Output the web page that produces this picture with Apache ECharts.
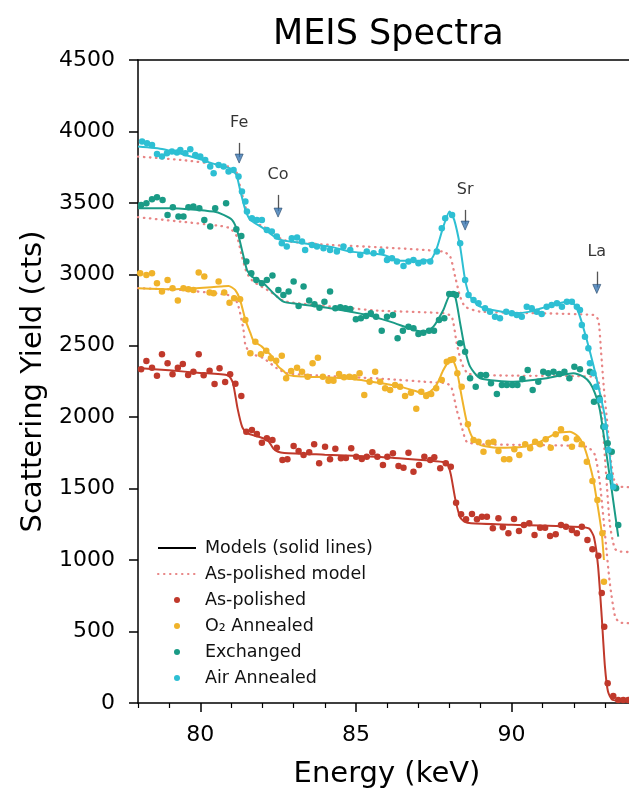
<!DOCTYPE html>
<html>
<head>
<meta charset="utf-8">
<script src="https://cdn.jsdelivr.net/npm/echarts@6/dist/echarts.min.js"></script>
<style>
  html, body { margin: 0; padding: 0; background: #fff; }
  #chart { width: 629px; height: 789px; }
</style>
</head>
<body>
<div id="chart"></div>
<script>
// measured spectra: [energy keV, counts]
var asPolishedPts = [[78.10,2336],[78.27,2394],[78.45,2347],[78.61,2291],[78.77,2441],[78.95,2378],[79.11,2301],[79.28,2347],[79.44,2373],[79.61,2296],[79.78,2319],[79.95,2441],
  [80.11,2294],[80.30,2326],[80.46,2233],[80.62,2343],[80.80,2247],[80.96,2301],[81.13,2235],[81.32,2149],[81.48,1899],[81.66,1911],[81.82,1883],[81.98,1822],
  [82.14,1853],[82.32,1841],[82.46,1787],[82.64,1701],[82.80,1706],[83.00,1799],[83.16,1764],[83.32,1736],[83.50,1755],[83.66,1811],[83.82,1678],
  [84.01,1794],[84.17,1706],[84.34,1780],[84.52,1713],[84.68,1715],[84.85,1783],[85.01,1724],[85.19,1708],[85.35,1724],[85.53,1755],[85.69,1724],[85.87,1666],
  [86.01,1724],[86.19,1748],[86.37,1659],[86.53,1647],[86.69,1752],[86.85,1619],[87.03,1666],[87.20,1724],[87.39,1701],[87.52,1720],[87.71,1643],[87.89,1678],
  [88.05,1654],[88.22,1402],[88.38,1321],[88.54,1286],[88.73,1323],[88.89,1286],[89.05,1304],[89.21,1304],[89.40,1223],[89.58,1293],[89.72,1230],[89.90,1188],
  [90.08,1288],[90.24,1204],[90.40,1246],[90.57,1258],[90.74,1176],[90.92,1227],[91.08,1227],[91.24,1169],[91.42,1181],[91.59,1246],[91.75,1234],[91.94,1211],
  [92.10,1188],[92.26,1234],[92.44,1141],[92.60,1076],[92.79,1031],[92.90,770],[92.98,534],[93.09,138],[93.27,49],[93.43,21],[93.59,21],[93.75,21]];

var o2AnnealedPts = [[78.07,3008],[78.27,2996],[78.45,3008],[78.61,2938],[78.77,2879],[78.95,2961],[79.11,2903],[79.28,2816],[79.46,2903],[79.62,2896],[79.78,2891],[79.95,3012],
  [80.13,2984],[80.30,2872],[80.43,2868],[80.59,2949],[80.77,2872],[80.94,2802],[81.09,2833],[81.28,2826],[81.45,2681],[81.61,2448],[81.77,2529],[81.95,2441],
  [82.12,2466],[82.27,2413],[82.44,2396],[82.62,2431],[82.76,2273],[82.92,2324],[83.11,2347],[83.27,2319],[83.45,2284],[83.61,2378],[83.78,2417],[83.94,2284],
  [84.12,2256],[84.28,2256],[84.46,2303],[84.62,2280],[84.79,2284],[84.96,2280],[85.12,2308],[85.27,2156],[85.44,2249],[85.62,2319],[85.78,2249],[85.94,2203],
  [86.10,2191],[86.26,2226],[86.42,2214],[86.58,2149],[86.77,2172],[86.94,2060],[87.10,2179],[87.26,2149],[87.42,2163],[87.58,2203],[87.76,2261],[87.92,2389],
  [88.04,2401],[88.13,2406],[88.26,2308],[88.40,2214],[88.60,1951],[88.78,1841],[88.94,1829],[89.10,1759],[89.26,1822],[89.42,1829],[89.58,1764],[89.76,1706],
  [89.93,1706],[90.09,1776],[90.25,1736],[90.44,1811],[90.60,1783],[90.76,1829],[90.92,1811],[91.10,1846],[91.26,1787],[91.42,1881],[91.59,1916],[91.75,1853],
  [91.94,1794],[92.10,1846],[92.26,1811],[92.42,1689],[92.60,1554],[92.76,1421],[92.92,1188],[92.97,849]];

var exchangedPts = [[78.10,3486],[78.27,3498],[78.45,3526],[78.61,3540],[78.79,3521],[78.95,3416],[79.12,3470],[79.30,3404],[79.46,3404],[79.62,3470],[79.78,3474],[79.97,3463],
  [80.13,3381],[80.32,3334],[80.48,3463],[80.83,3498],[81.16,3316],[81.32,3269],[81.48,3089],[81.64,3008],[81.80,2961],[81.98,2938],[82.14,2961],[82.32,2991],
  [82.51,2891],[82.67,2856],[82.84,2879],[83.00,2949],[83.16,2779],[83.32,2914],[83.50,2816],[83.67,2791],[83.83,2767],[83.99,2809],[84.17,2879],[84.34,2763],
  [84.50,2770],[84.66,2763],[84.82,2758],[85.00,2686],[85.16,2693],[85.33,2709],[85.48,2728],[85.65,2704],[85.83,2606],[86.00,2704],[86.19,2716],[86.34,2553],
  [86.51,2606],[86.69,2634],[86.85,2623],[87.01,2583],[87.17,2592],[87.35,2606],[87.51,2606],[87.67,2681],[87.84,2693],[88.00,2863],[88.13,2863],[88.22,2856],
  [88.35,2518],[88.51,2459],[88.67,2273],[88.85,2214],[89.01,2296],[89.18,2296],[89.34,2238],[89.53,2163],[89.69,2226],[89.85,2226],[90.03,2226],[90.19,2226],
  [90.35,2268],[90.52,2331],[90.68,2191],[90.86,2249],[91.02,2319],[91.18,2308],[91.35,2319],[91.53,2303],[91.70,2319],[91.86,2273],[92.02,2354],[92.20,2335],
  [92.52,2319],[92.65,2109],[92.82,2132],[92.95,1934],[93.09,1818],[93.14,1584],[93.22,1759],[93.36,1503],[93.43,1246]];

var airAnnealedPts = [[78.13,3929],[78.29,3917],[78.45,3906],[78.61,3843],[78.77,3824],[78.93,3848],[79.09,3859],[79.25,3852],[79.36,3871],[79.52,3848],[79.68,3875],[79.84,3836],
  [80.00,3824],[80.16,3801],[80.32,3754],[80.43,3708],[80.59,3766],[80.75,3754],[80.91,3719],[81.07,3731],[81.23,3684],[81.34,3579],[81.45,3509],[81.50,3439],
  [81.66,3393],[81.82,3381],[81.98,3381],[82.14,3311],[82.30,3299],[82.46,3264],[82.62,3218],[82.78,3194],[82.94,3252],[83.11,3257],[83.27,3229],[83.37,3171],
  [83.59,3206],[83.75,3194],[83.96,3183],[84.17,3171],[84.39,3159],[84.60,3194],[84.82,3171],[85.14,3136],[85.35,3159],[85.57,3147],[85.83,3159],[86.00,3101],
  [86.16,3113],[86.32,3089],[86.53,3059],[86.69,3089],[86.85,3101],[87.01,3078],[87.17,3089],[87.39,3089],[87.60,3159],[87.76,3322],[87.87,3393],[88.09,3416],
  [88.35,3218],[88.51,2961],[88.62,2856],[88.78,2821],[88.94,2798],[89.15,2763],[89.31,2739],[89.47,2704],[89.63,2693],[89.83,2739],[90.01,2728],[90.17,2716],
  [90.33,2704],[90.49,2774],[90.65,2763],[90.81,2739],[90.97,2723],[91.13,2774],[91.29,2786],[91.46,2798],[91.62,2774],[91.78,2809],[91.94,2809],[92.10,2774],
  [92.20,2751],[92.26,2646],[92.36,2564],[92.47,2483],[92.52,2378],[92.63,2308],[92.72,2214],[92.84,2121],[93.00,1934],[93.11,1771],[93.17,1584],[93.27,1514]];

// fitted models (solid lines)
var asPolishedModel = [[78.0,2345],[79.0,2328],[80.0,2310],[80.9,2292],[81.05,2240],[81.2,2060],[81.35,1930],[81.5,1888],[82.0,1855],[82.2,1830],[82.35,1780],[82.5,1758],
  [82.7,1750],[84.0,1738],[85.8,1722],[87.0,1702],[87.8,1686],[87.95,1668],[88.05,1600],[88.2,1420],[88.35,1300],[88.5,1268],[88.7,1258],[90.0,1248],[92.2,1232],
  [92.5,1220],[92.65,1160],[92.78,960],[92.9,600],[93.0,260],[93.1,80],[93.25,22],[94.0,10]];
var o2AnnealedModel = [[78.0,2903],[79.04,2896],[80.64,2914],[80.91,2919],[81.12,2891],[81.28,2821],[81.45,2681],[81.61,2590],[81.71,2535],[81.98,2494],[82.14,2459],
  [82.25,2440],[82.51,2354],[82.67,2325],[82.8,2296],[83.0,2289],[83.43,2284],[84.82,2270],[85.78,2240],[86.42,2214],[86.96,2180],[87.17,2165],[87.39,2180],[87.6,2230],
  [87.81,2330],[88.0,2395],[88.1,2401],[88.24,2331],[88.4,2144],[88.56,1970],[88.73,1864],[88.99,1806],[89.53,1787],[90.38,1794],[90.92,1829],[91.45,1888],[91.88,1899],
  [92.15,1864],[92.31,1806],[92.47,1701],[92.63,1561],[92.79,1351],[92.9,1188],[92.97,1001]];
var exchangedModel = [[78.0,3463],[79.04,3463],[80.43,3439],[80.75,3416],[81.02,3381],[81.18,3311],[81.34,3171],[81.5,3031],[81.66,2984],[82.03,2938],[82.35,2868],
  [82.67,2809],[83.11,2793],[84.17,2763],[85.35,2716],[86.1,2669],[86.96,2605],[87.2,2600],[87.49,2634],[87.81,2751],[88.03,2856],[88.19,2844],[88.35,2658],[88.51,2471],
  [88.67,2354],[88.99,2273],[90.06,2249],[91.13,2273],[91.99,2308],[92.31,2284],[92.52,2240],[92.68,2168],[92.84,2051],[93.0,1818],[93.22,1491],[93.43,1164]];
var airAnnealedModel = [[78.0,3894],[78.82,3875],[79.89,3812],[80.64,3759],[80.96,3742],[81.16,3696],[81.28,3591],[81.45,3451],[81.61,3381],[82.03,3322],[82.46,3252],
  [82.89,3229],[84.17,3194],[84.82,3159],[85.89,3136],[86.42,3095],[87.39,3101],[87.6,3183],[87.81,3334],[88.01,3439],[88.16,3381],[88.35,3194],[88.51,2961],[88.67,2844],
  [88.99,2774],[90.06,2728],[90.6,2739],[91.13,2774],[91.78,2809],[92.04,2786],[92.2,2704],[92.42,2540],[92.63,2366],[92.84,2170],[93.0,2004],[93.16,1724],[93.26,1500]];

// as-polished model shifted under each treated sample (dotted)
var refUnderO2 = [[78.0,2903],[79.36,2891],[80.64,2863],[81.07,2844],[81.23,2774],[81.39,2611],[81.45,2506],[81.61,2448],[82.03,2413],[82.46,2343],[82.78,2308],[83.43,2296],
  [85.78,2270],[87.6,2242],[87.92,2238],[88.08,2203],[88.24,2051],[88.4,1934],[88.56,1829],[88.99,1811],[92.42,1794],[92.68,1736],[92.84,1538],[93.0,1188],[93.16,838],
  [93.33,604],[93.49,562],[94.0,558]];
var refUnderExchanged = [[78.0,3400],[79.36,3369],[80.64,3339],[80.96,3322],[81.18,3264],[81.34,3124],[81.5,3008],[81.71,2949],[82.25,2879],[82.67,2815],[83.11,2798],
  [84.82,2763],[85.78,2745],[87.81,2728],[88.08,2704],[88.24,2518],[88.4,2378],[88.62,2303],[90.06,2291],[92.63,2284],[92.79,2260],[92.91,2000],[93.04,1600],[93.16,1250],
  [93.32,1080],[93.5,1060],[94.0,1055]];
var refUnderAir = [[78.0,3824],[79.36,3801],[80.64,3766],[81.12,3735],[81.28,3614],[81.45,3474],[81.61,3381],[82.03,3334],[82.57,3252],[82.89,3229],[84.17,3206],[85.78,3189],
  [87.81,3159],[88.03,3124],[88.19,2984],[88.35,2844],[88.51,2774],[88.99,2739],[92.63,2716],[92.79,2681],[92.88,2450],[92.97,2200],[93.08,1950],[93.18,1720],[93.3,1560],
  [93.45,1515],[94.0,1510]];

// element edge markers
var edgeNames = ['Fe', 'Co', 'Sr', 'La'];
var edgeEnergy = [81.25, 82.5, 88.51, 92.74];
var edgeTextCts = [4060, 3696, 3591, 3159];
var edgeTailCts = [3920, 3556, 3451, 3019];
var edgeTipCts = [3780, 3402, 3311, 2868];

var xMajorTicks = [80, 85, 90];
var xMinorTicks = [78, 79, 81, 82, 83, 84, 86, 87, 88, 89, 91, 92, 93];

var FONT = 'DejaVu Sans';
var RED = '#c0392b', YELLOW = '#f0b32a', TEAL = '#1a9b86', CYAN = '#2dbfd3', PINK = '#e88585';

var myChart = echarts.init(document.getElementById('chart'));

function dotted(data) {
  return {
    type: 'line', name: 'As-polished model', data: data, symbol: 'none', smooth: 0.2, z: 1,
    lineStyle: { color: PINK, width: 2.3, type: [0.5, 5.5], cap: 'round' },
    itemStyle: { color: PINK }
  };
}
function model(data, color) {
  return {
    type: 'line', data: data, symbol: 'none', smooth: 0.2, z: 2,
    lineStyle: { color: color, width: 2 }
  };
}
function dots(name, data, color) {
  return {
    type: 'scatter', name: name, data: data, symbolSize: 6.5, z: 3,
    itemStyle: { color: color, opacity: 1 }
  };
}

var heads = [], texts = [], shafts = [];
for (var i = 0; i < edgeNames.length; i++) {
  heads.push([edgeEnergy[i], edgeTipCts[i] + 30]);
  texts.push({ name: edgeNames[i], value: [edgeEnergy[i], edgeTextCts[i]] });
  shafts.push([{ coord: [edgeEnergy[i], edgeTailCts[i]] }, { coord: [edgeEnergy[i], edgeTipCts[i] + 40] }]);
}

var axisColor = '#000';
var option = {
  animation: false,
  title: {
    text: 'MEIS Spectra', left: 268, top: 12,
    textStyle: { fontFamily: FONT, fontSize: 35, fontWeight: 'normal', color: '#000' }
  },
  grid: { left: 138, right: -7, top: 60, bottom: 86, outerBoundsMode: 'none', containLabel: false },
  legend: {
    orient: 'vertical', left: 152, top: 534, itemWidth: 38, itemHeight: 6, itemGap: 8,
    selectedMode: false,
    data: [
      { name: 'Models (solid lines)', itemStyle: { opacity: 0 } },
      { name: 'As-polished model', itemStyle: { opacity: 0 } },
      'As-polished', 'O₂ Annealed', 'Exchanged', 'Air Annealed'
    ],
    textStyle: { fontFamily: FONT, fontSize: 17.5, color: '#111', padding: [0, 0, 0, 4] }
  },
  xAxis: [{
    type: 'value', min: 78, max: 94, position: 'bottom',
    name: 'Energy (keV)', nameLocation: 'middle', nameGap: 57,
    nameTextStyle: { fontFamily: FONT, fontSize: 29, color: '#000' },
    axisLine: { onZero: false, lineStyle: { color: axisColor, width: 1.5 } },
    axisTick: { customValues: xMajorTicks, length: 9, lineStyle: { color: axisColor, width: 1.5 } },
    axisLabel: { customValues: xMajorTicks, margin: 21, fontFamily: FONT, fontSize: 22, color: '#000' },
    splitLine: { show: false }
  }, {
    type: 'value', min: 78, max: 94, position: 'bottom',
    axisLine: { show: false },
    axisTick: { customValues: xMinorTicks, length: 5, lineStyle: { color: axisColor, width: 1.2 } },
    axisLabel: { show: false }, splitLine: { show: false }
  }, {
    type: 'value', min: 78, max: 94, position: 'top',
    axisLine: { show: true, onZero: false, lineStyle: { color: axisColor, width: 1.5 } },
    axisTick: { show: false }, axisLabel: { show: false }, splitLine: { show: false }
  }],
  yAxis: {
    type: 'value', min: 0, max: 4500, interval: 500,
    name: 'Scattering Yield (cts)', nameLocation: 'middle', nameGap: 75,
    nameTextStyle: { fontFamily: FONT, fontSize: 29, color: '#000' },
    axisLine: { show: true, lineStyle: { color: axisColor, width: 1.5 } },
    axisTick: { show: true, length: 9, lineStyle: { color: axisColor, width: 1.5 } },
    axisLabel: { margin: 23, fontFamily: FONT, fontSize: 22, color: '#000', formatter: function (v) { return String(v); } },
    splitLine: { show: false }
  },
  series: [
    dotted(refUnderO2),
    dotted(refUnderExchanged),
    dotted(refUnderAir),
    model(asPolishedModel, RED),
    model(o2AnnealedModel, YELLOW),
    model(exchangedModel, TEAL),
    model(airAnnealedModel, CYAN),
    { type: 'line', name: 'Models (solid lines)', data: [], symbol: 'none', lineStyle: { color: '#000', width: 2 }, itemStyle: { color: '#000' } },
    dots('As-polished', asPolishedPts, RED),
    dots('O₂ Annealed', o2AnnealedPts, YELLOW),
    dots('Exchanged', exchangedPts, TEAL),
    dots('Air Annealed', airAnnealedPts, CYAN),
    {
      type: 'scatter', data: heads, symbol: 'triangle', symbolRotate: 180, symbolSize: [8, 9], z: 6, silent: true,
      itemStyle: { color: '#3b78b4', borderColor: '#2a4a6a', borderWidth: 0.8 },
      markLine: {
        silent: true, symbol: ['none', 'none'], label: { show: false },
        lineStyle: { color: '#555', width: 1.3, type: 'solid' }, data: shafts
      }
    },
    {
      type: 'scatter', data: texts, symbolSize: 1, z: 6, silent: true,
      itemStyle: { color: 'rgba(0,0,0,0)' },
      label: { show: true, position: 'inside', formatter: '{b}', fontFamily: FONT, fontSize: 16, color: '#000' }
    }
  ]
};

myChart.setOption(option);
</script>
</body>
</html>
